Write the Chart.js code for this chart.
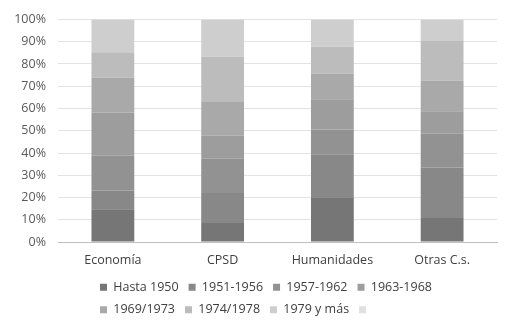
<!DOCTYPE html>
<html>
<head>
<meta charset="utf-8">
<script src="https://cdn.jsdelivr.net/npm/chart.js@4"></script>
<style>
  body { margin: 0; background: #fff; }
  #box { width: 514px; height: 331px; }
</style>
</head>
<body>
<div id="box"><canvas id="grafico"></canvas></div>
<script>
// categorias y series (porcentaje de cada barra)
const areas = ['Economía', 'CPSD', 'Humanidades', 'Otras C.s.']
const periodos = ['Hasta 1950', '1951-1956', '1957-1962', '1963-1968', '1969/1973', '1974/1978', '1979 y más', '']

const hasta1950 = [14.7, 8.5, 20.1, 10.8]
const p1951 = [8.5, 13.5, 19.3, 22.7]
const p1957 = [15.6, 15.4, 11.2, 15.2]
const p1963 = [19.4, 10.4, 13.6, 10.1]
const p1969 = [15.6, 15.1, 11.4, 13.7]
const p1974 = [11.5, 20.4, 12.2, 17.8]
const p1979 = [14.7, 16.7, 12.2, 9.7]
const sinDato = [0, 0, 0, 0]

const ticksY = [0, 10, 20, 30, 40, 50, 60, 70, 80, 90, 100]

const series = [hasta1950, p1951, p1957, p1963, p1969, p1974, p1979, sinDato]
const grises = ['#767676', '#888888', '#929292', '#9d9d9d', '#a9a9a9', '#bcbcbc', '#cecece', '#e0e0e0']

const fuente = { family: "'Open Sans', sans-serif", size: 12.5 }

// mueve la leyenda para que las dos filas empiecen a la izquierda como en Excel
const moverLeyenda = {
    id: 'moverLeyenda',
    afterLayout(chart) {
        const lg = chart.legend
        lg.left = 90
        lg.right = 480
        lg.top = 271
    }
}

const ctx = document.getElementById('grafico').getContext('2d')
new Chart(ctx, {
    type: 'bar',
    data: {
        labels: areas,
        datasets: series.map((d, i) => ({
            label: periodos[i],
            data: d,
            backgroundColor: grises[i],
            borderWidth: 0,
            categoryPercentage: 1,
            barPercentage: 0.39
        }))
    },
    options: {
        responsive: true,
        maintainAspectRatio: false,
        animation: false,
        layout: { padding: { top: 13, right: 17, bottom: 4, left: 0 } },
        scales: {
            x: {
                stacked: true,
                grid: { display: false },
                border: { color: '#bfbfbf' },
                ticks: { color: '#404040', font: fuente, padding: 3 },
                afterFit: s => { s.height = 30 }
            },
            y: {
                stacked: true,
                min: 0,
                max: 100,
                afterBuildTicks: s => { s.ticks = ticksY.map(v => ({ value: v })) },
                grid: { color: '#e3e3e3', drawTicks: false },
                border: { display: false },
                ticks: { color: '#595959', font: fuente, padding: 12, callback: v => v + '%' },
                afterFit: s => { s.width = 58 }
            }
        },
        plugins: {
            legend: {
                position: 'bottom',
                align: 'start',
                labels: { boxWidth: 7, boxHeight: 7, padding: 10, color: '#404040', font: fuente }
            },
            tooltip: { enabled: false }
        }
    },
    plugins: [moverLeyenda]
})
</script>
</body>
</html>
